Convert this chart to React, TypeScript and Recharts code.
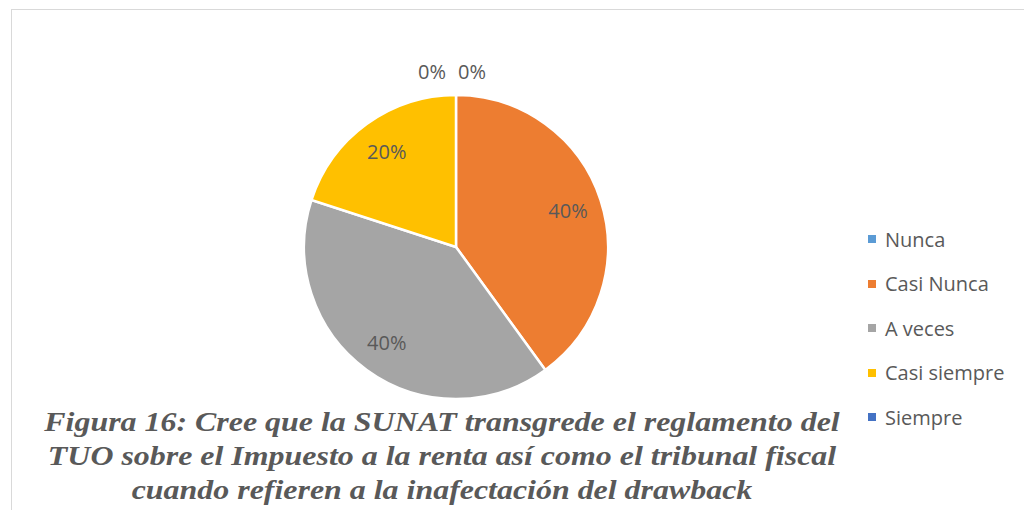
import React from 'react';
import { PieChart, Pie, Cell, Legend } from 'recharts';

const categories = ['Nunca', 'Casi Nunca', 'A veces', 'Casi siempre', 'Siempre'];
const percentages = [0, 40, 40, 20, 0];
const colors = ['#5B9BD5', '#ED7D31', '#A5A5A5', '#FFC000', '#4472C4'];
const titleLines = [
  'Figura 16: Cree que la SUNAT transgrede el reglamento del',
  'TUO sobre el Impuesto a la renta así como el tribunal fiscal',
  'cuando refieren a la inafectación del drawback',
];

const data = categories.map((name, i) => ({ name, value: percentages[i] }));

const TEXT = '#595959';
const FONT = '"Open Sans", "Noto Sans", sans-serif';

const RADIAN = Math.PI / 180;

const renderLabel = (props: any) => {
  const { cx, cy, midAngle, value, index, outerRadius } = props;
  let x: number;
  let y: number;
  if (value === 0) {
    x = cx + (index === 0 ? 16 : -24);
    y = cy - outerRadius - 24;
  } else {
    const r = outerRadius * 0.775;
    x = cx + r * Math.cos(-midAngle * RADIAN);
    y = cy + r * Math.sin(-midAngle * RADIAN);
  }
  return (
    <text
      x={x}
      y={y}
      fill={TEXT}
      fontSize={20}
      fontFamily={FONT}
      textAnchor="middle"
      dominantBaseline="central"
    >
      {`${value}%`}
    </text>
  );
};

const renderLegend = () => (
  <div style={{ fontFamily: FONT, fontSize: 20, color: TEXT }}>
    {categories.map((c, i) => (
      <div key={c} style={{ display: 'flex', alignItems: 'center', height: 44.5 }}>
        <span
          style={{
            display: 'inline-block',
            width: 8,
            height: 8,
            background: colors[i],
            marginRight: 9,
          }}
        />
        <span>{c}</span>
      </div>
    ))}
  </div>
);

export default function App() {
  return (
    <div style={{ position: 'absolute', left: 0, top: 0, width: 1024, height: 510, background: '#fff', overflow: 'hidden' }}>
      <div
        style={{
          position: 'absolute',
          left: 11,
          top: 9,
          width: 1040,
          height: 520,
          borderLeft: '1px solid #D9D9D9',
          borderTop: '1px solid #D9D9D9',
        }}
      />
      <PieChart
        width={1024}
        height={510}
        margin={{ top: 0, right: 0, bottom: 0, left: 0 }}
        style={{ position: 'absolute', left: 0, top: 0 }}
      >
        <Pie
          data={data}
          dataKey="value"
          nameKey="name"
          cx={456}
          cy={247}
          outerRadius={152}
          startAngle={90}
          endAngle={-270}
          stroke="#FFFFFF"
          strokeWidth={2.5}
          label={renderLabel}
          labelLine={false}
          isAnimationActive={false}
        >
          {data.map((d, i) => (
            <Cell key={d.name} fill={colors[i]} />
          ))}
        </Pie>
        <Legend
          layout="vertical"
          content={renderLegend}
          wrapperStyle={{ position: 'absolute', left: 868, top: 217, width: 156 }}
        />
      </PieChart>
      <div
        style={{
          position: 'absolute',
          left: 0,
          width: 884,
          top: 405,
          textAlign: 'center',
          fontFamily: '"Liberation Serif", "Times New Roman", serif',
          fontWeight: 'bold',
          fontStyle: 'italic',
          fontSize: 28,
          lineHeight: '34px',
          color: TEXT,
          transform: 'scaleX(1.14)',
          transformOrigin: '442px 0',
        }}
      >
        {titleLines.map((l) => (
          <div key={l} style={{ whiteSpace: 'nowrap' }}>{l}</div>
        ))}
      </div>
    </div>
  );
}
